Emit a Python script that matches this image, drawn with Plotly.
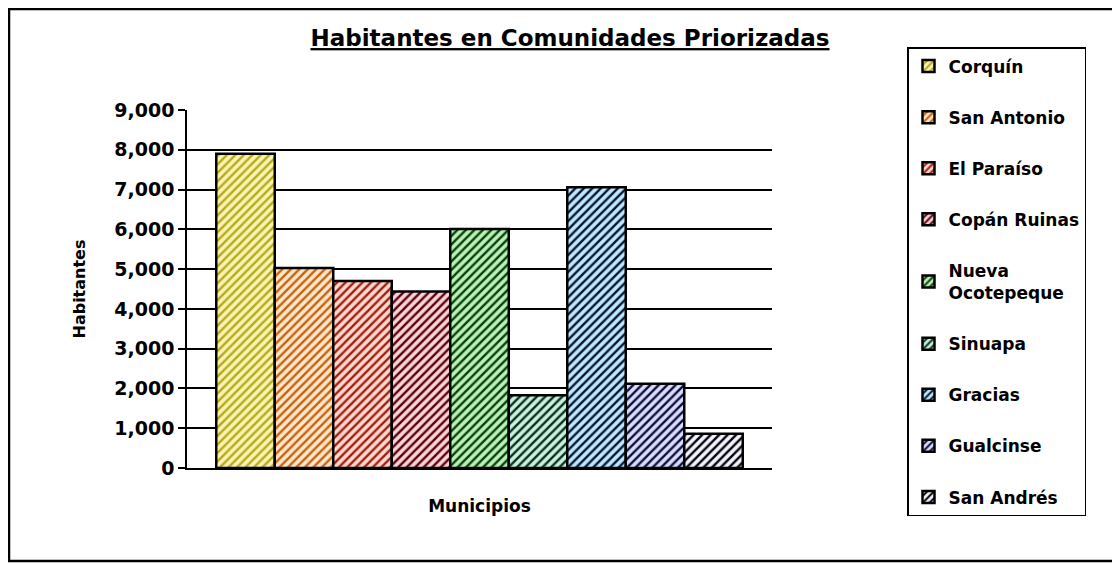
import plotly.graph_objects as go

municipios = ["Corquín", "San Antonio", "El Paraíso", "Copán Ruinas",
              "Nueva<br>Ocotepeque", "Sinuapa", "Gracias", "Gualcinse", "San Andrés"]
habitantes = [7900, 5030, 4700, 4440, 6010, 1830, 7060, 2120, 860]
bg_colors = ["#f8f4b0", "#fde8cc", "#fcd8cf", "#f9d4d4", "#bdf0b4",
             "#cbf0e2", "#bfe9f8", "#dcdcf8", "#f2f2f8"]
fg_colors = ["#b8a820", "#c86010", "#a02010", "#5a0010", "#064010",
             "#0a3018", "#081438", "#0a1040", "#050510"]
y_ticks = [0, 1000, 2000, 3000, 4000, 5000, 6000, 7000, 8000, 9000]

# page is drawn with an 8px body margin -> work in figure coordinates = reference - 8
OFF = 8
W, H = 1120 - OFF, 563 - OFF
L, T = 187 - OFF, 110 - OFF
R = W - (772 - OFF)
B = H - (468 - OFF)
pw, ph = W - L - R, H - T - B

def px_x(x):
    return (x - OFF - L) / pw

def px_y(y):
    return (H - B - (y - OFF)) / ph

fig = go.Figure()
for i, (name, val) in enumerate(zip(municipios, habitantes)):
    fig.add_trace(go.Bar(
        x=["Municipios"], y=[val], name=name, legendgroup=f"g{i}",
        marker=dict(color=bg_colors[i],
                    line=dict(color="black", width=2.5),
                    pattern=dict(shape="/", fgcolor=fg_colors[i], bgcolor=bg_colors[i],
                                 fgopacity=1, fillmode="replace",
                                 size=6, solidity=0.4)),
    ))

FAM = "DejaVu Sans, Arial, sans-serif"
font_bold = dict(family=FAM, color="black", weight="bold")

fig.update_layout(
    width=W, height=H,
    margin=dict(l=L, r=R, t=T, b=B, autoexpand=False),
    paper_bgcolor="white", plot_bgcolor="white",
    barmode="group", bargap=0.1, bargroupgap=0,
    title=dict(text="<u>Habitantes en Comunidades Priorizadas</u>",
               x=(570 - OFF) / W, xref="container", xanchor="center",
               y=1 - (38 - OFF) / H, yref="container", yanchor="middle",
               font=dict(size=23, **font_bold)),
    legend=dict(x=px_x(907), y=px_y(47), xanchor="left", yanchor="top",
                bordercolor="black", borderwidth=1.5, bgcolor="white",
                font=dict(size=17, **font_bold), tracegroupgap=26,
                itemwidth=30, maxheight=700),
    xaxis=dict(showticklabels=False, showgrid=False, showline=True, linecolor="black",
               linewidth=1.5, ticks="",
               title=dict(text="Municipios", font=dict(size=17, **font_bold), standoff=31)),
    yaxis=dict(range=[0, 9000], tickvals=y_ticks, tickformat=",d",
               showgrid=True, gridcolor="black", gridwidth=1.5,
               showline=True, linecolor="black", linewidth=1.5,
               ticks="outside", ticklen=7, tickcolor="black", tickwidth=1.5,
               tickfont=dict(size=19, **font_bold),
               title=dict(text="Habitantes", font=dict(size=16, **font_bold), standoff=25),
               zeroline=False),
    font=font_bold,
)

fig.add_shape(type="rect", xref="paper", yref="paper",
              x0=px_x(OFF + 1), x1=px_x(1118),
              y0=px_y(561), y1=px_y(OFF + 1),
              line=dict(color="black", width=2.5), layer="below")

fig.write_html("out.html")
